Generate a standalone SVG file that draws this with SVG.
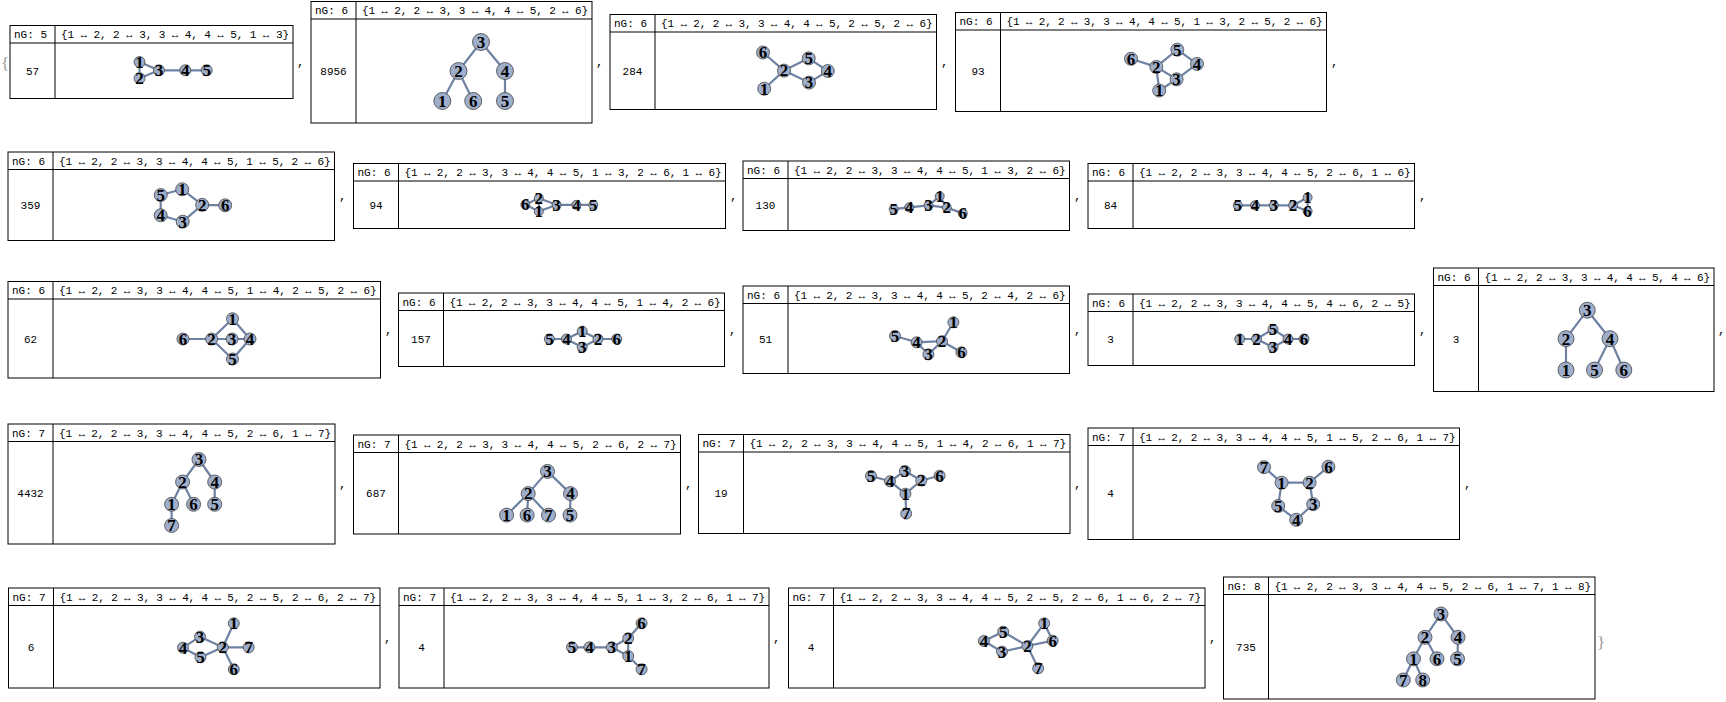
<svg xmlns="http://www.w3.org/2000/svg" width="1726" height="702" viewBox="0 0 1726 702">
<style>
.fr{fill:#fff;stroke:#000;stroke-width:1}
.ln{stroke:#000;stroke-width:1;fill:none}
.hd{font-family:"Liberation Mono","DejaVu Sans Mono",monospace;font-size:11px;fill:#000}
.ct{font-family:"Liberation Mono","DejaVu Sans Mono",monospace;font-size:11px;fill:#000;text-anchor:middle}
.cm{font-family:"Liberation Mono","DejaVu Sans Mono",monospace;font-size:12px;fill:#000}
.br{font-family:"Liberation Serif","DejaVu Serif",serif;font-size:17px;fill:#999}
.e{stroke:#6f82a3;stroke-width:2.2;stroke-linecap:round;fill:none}
.v{fill:#9eaecb;stroke:#454545;stroke-width:0.8}
.lb{font-family:"Liberation Serif","DejaVu Serif",serif;font-weight:bold;font-size:17px;text-anchor:middle;fill:#000}
</style>
<rect width="1726" height="702" fill="#fff"/>
<text class="br" x="1" y="69">{</text>
<text class="br" x="1597" y="648">}</text>
<g id="commas">
<text class="cm" x="297" y="66">,</text><text class="cm" x="596" y="66">,</text><text class="cm" x="941" y="66">,</text><text class="cm" x="1331" y="66">,</text>
<text class="cm" x="339" y="200">,</text><text class="cm" x="730" y="200">,</text><text class="cm" x="1074" y="200">,</text><text class="cm" x="1419" y="200">,</text>
<text class="cm" x="385" y="334">,</text><text class="cm" x="729" y="334">,</text><text class="cm" x="1074" y="334">,</text><text class="cm" x="1419" y="334">,</text><text class="cm" x="1718" y="334">,</text>
<text class="cm" x="339" y="488">,</text><text class="cm" x="685" y="488">,</text><text class="cm" x="1074" y="488">,</text><text class="cm" x="1464" y="488">,</text>
<text class="cm" x="384" y="642">,</text><text class="cm" x="773" y="642">,</text><text class="cm" x="1209" y="642">,</text>
</g>

<!-- Box 1 -->
<g id="box1">
<rect class="fr" x="10" y="25.5" width="283" height="73"/>
<path class="ln" d="M10 43H293M55 25.5V98.5"/>
<text class="hd" x="14" y="38">nG: 5</text>
<text class="hd" x="61" y="38" textLength="228" lengthAdjust="spacing">{1 ↔ 2, 2 ↔ 3, 3 ↔ 4, 4 ↔ 5, 1 ↔ 3}</text>
<text class="ct" x="32.5" y="75">57</text>
</g>
<g id="box1-edges">
<path class="e" d="M139.5 62L139.5 78.3M139.5 78.3L159 70.3M159 70.3L185.3 70.3M185.3 70.3L206.7 70.3M139.5 62L159 70.3"/>
</g>
<g id="box1-v1"><circle class="v" cx="139.5" cy="62" r="5.5"/><text class="lb" x="139.5" y="67.8">1</text></g>
<g id="box1-v2"><circle class="v" cx="139.5" cy="78.3" r="5.5"/><text class="lb" x="139.5" y="84.1">2</text></g>
<g id="box1-v3"><circle class="v" cx="159" cy="70.3" r="5.5"/><text class="lb" x="159" y="76.1">3</text></g>
<g id="box1-v4"><circle class="v" cx="185.3" cy="70.3" r="5.5"/><text class="lb" x="185.3" y="76.1">4</text></g>
<g id="box1-v5"><circle class="v" cx="206.7" cy="70.3" r="5.5"/><text class="lb" x="206.7" y="76.1">5</text></g>

<!-- Box 2 -->
<g id="box2">
<rect class="fr" x="311" y="1.5" width="281" height="121.5"/>
<path class="ln" d="M311 19H592M356 1.5V123"/>
<text class="hd" x="315" y="14">nG: 6</text>
<text class="hd" x="362" y="14" textLength="226" lengthAdjust="spacing">{1 ↔ 2, 2 ↔ 3, 3 ↔ 4, 4 ↔ 5, 2 ↔ 6}</text>
<text class="ct" x="333.5" y="75">8956</text>
</g>
<g id="box2-edges">
<path class="e" d="M442.3 101L458.5 71M458.5 71L481 42M481 42L505 71M505 71L505 101M458.5 71L473.2 101"/>
</g>
<g id="box2-v1"><circle class="v" cx="442.3" cy="101" r="8.5"/><text class="lb" x="442.3" y="106.8">1</text></g>
<g id="box2-v2"><circle class="v" cx="458.5" cy="71" r="8.5"/><text class="lb" x="458.5" y="76.8">2</text></g>
<g id="box2-v3"><circle class="v" cx="481" cy="42" r="8.5"/><text class="lb" x="481" y="47.8">3</text></g>
<g id="box2-v4"><circle class="v" cx="505" cy="71" r="8.5"/><text class="lb" x="505" y="76.8">4</text></g>
<g id="box2-v5"><circle class="v" cx="505" cy="101" r="8.5"/><text class="lb" x="505" y="106.8">5</text></g>
<g id="box2-v6"><circle class="v" cx="473.2" cy="101" r="8.5"/><text class="lb" x="473.2" y="106.8">6</text></g>

<!-- Box 3 -->
<g id="box3">
<rect class="fr" x="610" y="14.5" width="326.5" height="95"/>
<path class="ln" d="M610 32H936.5M655 14.5V109.5"/>
<text class="hd" x="614" y="27">nG: 6</text>
<text class="hd" x="661" y="27" textLength="271.5" lengthAdjust="spacing">{1 ↔ 2, 2 ↔ 3, 3 ↔ 4, 4 ↔ 5, 2 ↔ 5, 2 ↔ 6}</text>
<text class="ct" x="632.5" y="75">284</text>
</g>
<g id="box3-edges">
<path class="e" d="M764.2 88.7L784 70.6M784 70.6L809 82.6M809 82.6L827.8 71M827.8 71L808.7 58.3M784 70.6L808.7 58.3M784 70.6L763 52.5"/>
</g>
<g id="box3-v1"><circle class="v" cx="764.2" cy="88.7" r="6.5"/><text class="lb" x="764.2" y="94.5">1</text></g>
<g id="box3-v2"><circle class="v" cx="784" cy="70.6" r="6.5"/><text class="lb" x="784" y="76.4">2</text></g>
<g id="box3-v3"><circle class="v" cx="809" cy="82.6" r="6.5"/><text class="lb" x="809" y="88.4">3</text></g>
<g id="box3-v4"><circle class="v" cx="827.8" cy="71" r="6.5"/><text class="lb" x="827.8" y="76.8">4</text></g>
<g id="box3-v5"><circle class="v" cx="808.7" cy="58.3" r="6.5"/><text class="lb" x="808.7" y="64.1">5</text></g>
<g id="box3-v6"><circle class="v" cx="763" cy="52.5" r="6.5"/><text class="lb" x="763" y="58.3">6</text></g>

<!-- Box 4 -->
<g id="box4">
<rect class="fr" x="955.5" y="12.5" width="371" height="99"/>
<path class="ln" d="M955.5 30H1326.5M1000.5 12.5V111.5"/>
<text class="hd" x="959.5" y="25">nG: 6</text>
<text class="hd" x="1006.5" y="25" textLength="316" lengthAdjust="spacing">{1 ↔ 2, 2 ↔ 3, 3 ↔ 4, 4 ↔ 5, 1 ↔ 3, 2 ↔ 5, 2 ↔ 6}</text>
<text class="ct" x="978" y="75">93</text>
</g>
<g id="box4-edges">
<path class="e" d="M1159.2 90.5L1156.3 66.9M1156.3 66.9L1176.6 79.3M1176.6 79.3L1197 63.9M1197 63.9L1177.3 49.7M1159.2 90.5L1176.6 79.3M1156.3 66.9L1177.3 49.7M1156.3 66.9L1131 58.8"/>
</g>
<g id="box4-v1"><circle class="v" cx="1159.2" cy="90.5" r="6.5"/><text class="lb" x="1159.2" y="96.3">1</text></g>
<g id="box4-v2"><circle class="v" cx="1156.3" cy="66.9" r="6.5"/><text class="lb" x="1156.3" y="72.7">2</text></g>
<g id="box4-v3"><circle class="v" cx="1176.6" cy="79.3" r="6.5"/><text class="lb" x="1176.6" y="85.1">3</text></g>
<g id="box4-v4"><circle class="v" cx="1197" cy="63.9" r="6.5"/><text class="lb" x="1197" y="69.7">4</text></g>
<g id="box4-v5"><circle class="v" cx="1177.3" cy="49.7" r="6.5"/><text class="lb" x="1177.3" y="55.5">5</text></g>
<g id="box4-v6"><circle class="v" cx="1131" cy="58.8" r="6.5"/><text class="lb" x="1131" y="64.6">6</text></g>

<!-- Box 5 -->
<g id="box5">
<rect class="fr" x="8" y="152" width="326.5" height="88.5"/>
<path class="ln" d="M8 169.5H334.5M53 152V240.5"/>
<text class="hd" x="12" y="164.5">nG: 6</text>
<text class="hd" x="59" y="164.5" textLength="271.5" lengthAdjust="spacing">{1 ↔ 2, 2 ↔ 3, 3 ↔ 4, 4 ↔ 5, 1 ↔ 5, 2 ↔ 6}</text>
<text class="ct" x="30.5" y="209">359</text>
</g>
<g id="box5-edges">
<path class="e" d="M182.2 189.3L202.2 204.8M202.2 204.8L182.7 221.7M182.7 221.7L160.7 215.3M160.7 215.3L160.7 195M182.2 189.3L160.7 195M202.2 204.8L225.2 205.3"/>
</g>
<g id="box5-v1"><circle class="v" cx="182.2" cy="189.3" r="6.5"/><text class="lb" x="182.2" y="195.1">1</text></g>
<g id="box5-v2"><circle class="v" cx="202.2" cy="204.8" r="6.5"/><text class="lb" x="202.2" y="210.6">2</text></g>
<g id="box5-v3"><circle class="v" cx="182.7" cy="221.7" r="6.5"/><text class="lb" x="182.7" y="227.5">3</text></g>
<g id="box5-v4"><circle class="v" cx="160.7" cy="215.3" r="6.5"/><text class="lb" x="160.7" y="221.1">4</text></g>
<g id="box5-v5"><circle class="v" cx="160.7" cy="195" r="6.5"/><text class="lb" x="160.7" y="200.8">5</text></g>
<g id="box5-v6"><circle class="v" cx="225.2" cy="205.3" r="6.5"/><text class="lb" x="225.2" y="211.1">6</text></g>

<!-- Box 6 -->
<g id="box6">
<rect class="fr" x="353.5" y="163.5" width="372" height="65"/>
<path class="ln" d="M353.5 181H725.5M398.5 163.5V228.5"/>
<text class="hd" x="357.5" y="176">nG: 6</text>
<text class="hd" x="404.5" y="176" textLength="317" lengthAdjust="spacing">{1 ↔ 2, 2 ↔ 3, 3 ↔ 4, 4 ↔ 5, 1 ↔ 3, 2 ↔ 6, 1 ↔ 6}</text>
<text class="ct" x="376" y="209">94</text>
</g>
<g id="box6-edges">
<path class="e" d="M538.8 211.5L538.8 198.2M538.8 198.2L556.6 204.8M556.6 204.8L576.4 204.8M576.4 204.8L593.3 204.8M538.8 211.5L556.6 204.8M538.8 198.2L525.3 204.6M538.8 211.5L525.3 204.6"/>
</g>
<g id="box6-v1"><circle class="v" cx="538.8" cy="211.5" r="4.5"/><text class="lb" x="538.8" y="217.3">1</text></g>
<g id="box6-v2"><circle class="v" cx="538.8" cy="198.2" r="4.5"/><text class="lb" x="538.8" y="204">2</text></g>
<g id="box6-v3"><circle class="v" cx="556.6" cy="204.8" r="4.5"/><text class="lb" x="556.6" y="210.6">3</text></g>
<g id="box6-v4"><circle class="v" cx="576.4" cy="204.8" r="4.5"/><text class="lb" x="576.4" y="210.6">4</text></g>
<g id="box6-v5"><circle class="v" cx="593.3" cy="204.8" r="4.5"/><text class="lb" x="593.3" y="210.6">5</text></g>
<g id="box6-v6"><circle class="v" cx="525.3" cy="204.6" r="4.5"/><text class="lb" x="525.3" y="210.4">6</text></g>

<!-- Box 7 -->
<g id="box7">
<rect class="fr" x="743" y="161" width="326.5" height="69.5"/>
<path class="ln" d="M743 178.5H1069.5M788 161V230.5"/>
<text class="hd" x="747" y="173.5">nG: 6</text>
<text class="hd" x="794" y="173.5" textLength="271.5" lengthAdjust="spacing">{1 ↔ 2, 2 ↔ 3, 3 ↔ 4, 4 ↔ 5, 1 ↔ 3, 2 ↔ 6}</text>
<text class="ct" x="765.5" y="209">130</text>
</g>
<g id="box7-edges">
<path class="e" d="M939.7 196.3L946.8 207.6M946.8 207.6L928.5 205.3M928.5 205.3L909.2 207.3M909.2 207.3L893.7 209.1M939.7 196.3L928.5 205.3M946.8 207.6L962.8 213.4"/>
</g>
<g id="box7-v1"><circle class="v" cx="939.7" cy="196.3" r="4.5"/><text class="lb" x="939.7" y="202.1">1</text></g>
<g id="box7-v2"><circle class="v" cx="946.8" cy="207.6" r="4.5"/><text class="lb" x="946.8" y="213.4">2</text></g>
<g id="box7-v3"><circle class="v" cx="928.5" cy="205.3" r="4.5"/><text class="lb" x="928.5" y="211.1">3</text></g>
<g id="box7-v4"><circle class="v" cx="909.2" cy="207.3" r="4.5"/><text class="lb" x="909.2" y="213.1">4</text></g>
<g id="box7-v5"><circle class="v" cx="893.7" cy="209.1" r="4.5"/><text class="lb" x="893.7" y="214.9">5</text></g>
<g id="box7-v6"><circle class="v" cx="962.8" cy="213.4" r="4.5"/><text class="lb" x="962.8" y="219.2">6</text></g>

<!-- Box 8 -->
<g id="box8">
<rect class="fr" x="1088" y="163.5" width="326.5" height="65"/>
<path class="ln" d="M1088 181H1414.5M1133 163.5V228.5"/>
<text class="hd" x="1092" y="176">nG: 6</text>
<text class="hd" x="1139" y="176" textLength="271.5" lengthAdjust="spacing">{1 ↔ 2, 2 ↔ 3, 3 ↔ 4, 4 ↔ 5, 2 ↔ 6, 1 ↔ 6}</text>
<text class="ct" x="1110.5" y="209">84</text>
</g>
<g id="box8-edges">
<path class="e" d="M1307.6 197.5L1293.1 205.3M1293.1 205.3L1273.8 205.3M1273.8 205.3L1255 205.3M1255 205.3L1237.8 205.3M1293.1 205.3L1307.6 211.2M1307.6 197.5L1307.6 211.2"/>
</g>
<g id="box8-v1"><circle class="v" cx="1307.6" cy="197.5" r="4.5"/><text class="lb" x="1307.6" y="203.3">1</text></g>
<g id="box8-v2"><circle class="v" cx="1293.1" cy="205.3" r="4.5"/><text class="lb" x="1293.1" y="211.1">2</text></g>
<g id="box8-v3"><circle class="v" cx="1273.8" cy="205.3" r="4.5"/><text class="lb" x="1273.8" y="211.1">3</text></g>
<g id="box8-v4"><circle class="v" cx="1255" cy="205.3" r="4.5"/><text class="lb" x="1255" y="211.1">4</text></g>
<g id="box8-v5"><circle class="v" cx="1237.8" cy="205.3" r="4.5"/><text class="lb" x="1237.8" y="211.1">5</text></g>
<g id="box8-v6"><circle class="v" cx="1307.6" cy="211.2" r="4.5"/><text class="lb" x="1307.6" y="217">6</text></g>

<!-- Box 9 -->
<g id="box9">
<rect class="fr" x="8" y="281.5" width="372.5" height="96.5"/>
<path class="ln" d="M8 299H380.5M53 281.5V378"/>
<text class="hd" x="12" y="294">nG: 6</text>
<text class="hd" x="59" y="294" textLength="317.5" lengthAdjust="spacing">{1 ↔ 2, 2 ↔ 3, 3 ↔ 4, 4 ↔ 5, 1 ↔ 4, 2 ↔ 5, 2 ↔ 6}</text>
<text class="ct" x="30.5" y="342.5">62</text>
</g>
<g id="box9-edges">
<path class="e" d="M232.5 318.7L211.6 339M211.6 339L232.1 339M232.1 339L250 339M250 339L232.5 359M232.5 318.7L250 339M211.6 339L232.5 359M211.6 339L183 339"/>
</g>
<g id="box9-v1"><circle class="v" cx="232.5" cy="318.7" r="6"/><text class="lb" x="232.5" y="324.5">1</text></g>
<g id="box9-v2"><circle class="v" cx="211.6" cy="339" r="6"/><text class="lb" x="211.6" y="344.8">2</text></g>
<g id="box9-v3"><circle class="v" cx="232.1" cy="339" r="6"/><text class="lb" x="232.1" y="344.8">3</text></g>
<g id="box9-v4"><circle class="v" cx="250" cy="339" r="6"/><text class="lb" x="250" y="344.8">4</text></g>
<g id="box9-v5"><circle class="v" cx="232.5" cy="359" r="6"/><text class="lb" x="232.5" y="364.8">5</text></g>
<g id="box9-v6"><circle class="v" cx="183" cy="339" r="6"/><text class="lb" x="183" y="344.8">6</text></g>

<!-- Box 10 -->
<g id="box10">
<rect class="fr" x="398.5" y="293" width="326" height="73.5"/>
<path class="ln" d="M398.5 310.5H724.5M443.5 293V366.5"/>
<text class="hd" x="402.5" y="305.5">nG: 6</text>
<text class="hd" x="449.5" y="305.5" textLength="271" lengthAdjust="spacing">{1 ↔ 2, 2 ↔ 3, 3 ↔ 4, 4 ↔ 5, 1 ↔ 4, 2 ↔ 6}</text>
<text class="ct" x="421" y="342.5">157</text>
</g>
<g id="box10-edges">
<path class="e" d="M582.2 331.2L598 339M598 339L582.2 347.2M582.2 347.2L566.4 339M566.4 339L549.4 339M582.2 331.2L566.4 339M598 339L616.7 339"/>
</g>
<g id="box10-v1"><circle class="v" cx="582.2" cy="331.2" r="5"/><text class="lb" x="582.2" y="337">1</text></g>
<g id="box10-v2"><circle class="v" cx="598" cy="339" r="5"/><text class="lb" x="598" y="344.8">2</text></g>
<g id="box10-v3"><circle class="v" cx="582.2" cy="347.2" r="5"/><text class="lb" x="582.2" y="353">3</text></g>
<g id="box10-v4"><circle class="v" cx="566.4" cy="339" r="5"/><text class="lb" x="566.4" y="344.8">4</text></g>
<g id="box10-v5"><circle class="v" cx="549.4" cy="339" r="5"/><text class="lb" x="549.4" y="344.8">5</text></g>
<g id="box10-v6"><circle class="v" cx="616.7" cy="339" r="5"/><text class="lb" x="616.7" y="344.8">6</text></g>

<!-- Box 11 -->
<g id="box11">
<rect class="fr" x="743" y="286" width="326.5" height="87.5"/>
<path class="ln" d="M743 303.5H1069.5M788 286V373.5"/>
<text class="hd" x="747" y="298.5">nG: 6</text>
<text class="hd" x="794" y="298.5" textLength="271.5" lengthAdjust="spacing">{1 ↔ 2, 2 ↔ 3, 3 ↔ 4, 4 ↔ 5, 2 ↔ 4, 2 ↔ 6}</text>
<text class="ct" x="765.5" y="342.5">51</text>
</g>
<g id="box11-edges">
<path class="e" d="M953.4 322.3L942 341.2M942 341.2L928.4 354.4M928.4 354.4L916.6 342.3M916.6 342.3L895 336M942 341.2L916.6 342.3M942 341.2L961.4 352.3"/>
</g>
<g id="box11-v1"><circle class="v" cx="953.4" cy="322.3" r="5.5"/><text class="lb" x="953.4" y="328.1">1</text></g>
<g id="box11-v2"><circle class="v" cx="942" cy="341.2" r="5.5"/><text class="lb" x="942" y="347">2</text></g>
<g id="box11-v3"><circle class="v" cx="928.4" cy="354.4" r="5.5"/><text class="lb" x="928.4" y="360.2">3</text></g>
<g id="box11-v4"><circle class="v" cx="916.6" cy="342.3" r="5.5"/><text class="lb" x="916.6" y="348.1">4</text></g>
<g id="box11-v5"><circle class="v" cx="895" cy="336" r="5.5"/><text class="lb" x="895" y="341.8">5</text></g>
<g id="box11-v6"><circle class="v" cx="961.4" cy="352.3" r="5.5"/><text class="lb" x="961.4" y="358.1">6</text></g>

<!-- Box 12 -->
<g id="box12">
<rect class="fr" x="1088" y="294" width="326.5" height="71.5"/>
<path class="ln" d="M1088 311.5H1414.5M1133 294V365.5"/>
<text class="hd" x="1092" y="306.5">nG: 6</text>
<text class="hd" x="1139" y="306.5" textLength="271.5" lengthAdjust="spacing">{1 ↔ 2, 2 ↔ 3, 3 ↔ 4, 4 ↔ 5, 4 ↔ 6, 2 ↔ 5}</text>
<text class="ct" x="1110.5" y="342.5">3</text>
</g>
<g id="box12-edges">
<path class="e" d="M1239.7 339L1256.5 339M1256.5 339L1273 347.3M1273 347.3L1288 339M1288 339L1273 329.2M1288 339L1304 339M1256.5 339L1273 329.2"/>
</g>
<g id="box12-v1"><circle class="v" cx="1239.7" cy="339" r="5"/><text class="lb" x="1239.7" y="344.8">1</text></g>
<g id="box12-v2"><circle class="v" cx="1256.5" cy="339" r="5"/><text class="lb" x="1256.5" y="344.8">2</text></g>
<g id="box12-v3"><circle class="v" cx="1273" cy="347.3" r="5"/><text class="lb" x="1273" y="353.1">3</text></g>
<g id="box12-v4"><circle class="v" cx="1288" cy="339" r="5"/><text class="lb" x="1288" y="344.8">4</text></g>
<g id="box12-v5"><circle class="v" cx="1273" cy="329.2" r="5"/><text class="lb" x="1273" y="335">5</text></g>
<g id="box12-v6"><circle class="v" cx="1304" cy="339" r="5"/><text class="lb" x="1304" y="344.8">6</text></g>

<!-- Box 13 -->
<g id="box13">
<rect class="fr" x="1433.5" y="268" width="280.5" height="123.5"/>
<path class="ln" d="M1433.5 285.5H1714M1478.5 268V391.5"/>
<text class="hd" x="1437.5" y="280.5">nG: 6</text>
<text class="hd" x="1484.5" y="280.5" textLength="225.5" lengthAdjust="spacing">{1 ↔ 2, 2 ↔ 3, 3 ↔ 4, 4 ↔ 5, 4 ↔ 6}</text>
<text class="ct" x="1456" y="342.5">3</text>
</g>
<g id="box13-edges">
<path class="e" d="M1566 370L1566 338.7M1566 338.7L1587.3 310.2M1587.3 310.2L1610 338.7M1610 338.7L1594.5 370M1610 338.7L1623.8 370"/>
</g>
<g id="box13-v1"><circle class="v" cx="1566" cy="370" r="8"/><text class="lb" x="1566" y="375.8">1</text></g>
<g id="box13-v2"><circle class="v" cx="1566" cy="338.7" r="8"/><text class="lb" x="1566" y="344.5">2</text></g>
<g id="box13-v3"><circle class="v" cx="1587.3" cy="310.2" r="8"/><text class="lb" x="1587.3" y="316">3</text></g>
<g id="box13-v4"><circle class="v" cx="1610" cy="338.7" r="8"/><text class="lb" x="1610" y="344.5">4</text></g>
<g id="box13-v5"><circle class="v" cx="1594.5" cy="370" r="8"/><text class="lb" x="1594.5" y="375.8">5</text></g>
<g id="box13-v6"><circle class="v" cx="1623.8" cy="370" r="8"/><text class="lb" x="1623.8" y="375.8">6</text></g>

<!-- Box 14 -->
<g id="box14">
<rect class="fr" x="8" y="424" width="327" height="120"/>
<path class="ln" d="M8 441.5H335M53 424V544"/>
<text class="hd" x="12" y="436.5">nG: 7</text>
<text class="hd" x="59" y="436.5" textLength="272" lengthAdjust="spacing">{1 ↔ 2, 2 ↔ 3, 3 ↔ 4, 4 ↔ 5, 2 ↔ 6, 1 ↔ 7}</text>
<text class="ct" x="30.5" y="496.5">4432</text>
</g>
<g id="box14-edges">
<path class="e" d="M171.6 504.3L182.6 482M182.6 482L199 459.5M199 459.5L214.7 482M214.7 482L214.7 504.3M182.6 482L193.6 504.3M171.6 504.3L171.6 525.5"/>
</g>
<g id="box14-v1"><circle class="v" cx="171.6" cy="504.3" r="7"/><text class="lb" x="171.6" y="510.1">1</text></g>
<g id="box14-v2"><circle class="v" cx="182.6" cy="482" r="7"/><text class="lb" x="182.6" y="487.8">2</text></g>
<g id="box14-v3"><circle class="v" cx="199" cy="459.5" r="7"/><text class="lb" x="199" y="465.3">3</text></g>
<g id="box14-v4"><circle class="v" cx="214.7" cy="482" r="7"/><text class="lb" x="214.7" y="487.8">4</text></g>
<g id="box14-v5"><circle class="v" cx="214.7" cy="504.3" r="7"/><text class="lb" x="214.7" y="510.1">5</text></g>
<g id="box14-v6"><circle class="v" cx="193.6" cy="504.3" r="7"/><text class="lb" x="193.6" y="510.1">6</text></g>
<g id="box14-v7"><circle class="v" cx="171.6" cy="525.5" r="7"/><text class="lb" x="171.6" y="531.3">7</text></g>

<!-- Box 15 -->
<g id="box15">
<rect class="fr" x="353.5" y="435" width="327" height="99"/>
<path class="ln" d="M353.5 452.5H680.5M398.5 435V534"/>
<text class="hd" x="357.5" y="447.5">nG: 7</text>
<text class="hd" x="404.5" y="447.5" textLength="272" lengthAdjust="spacing">{1 ↔ 2, 2 ↔ 3, 3 ↔ 4, 4 ↔ 5, 2 ↔ 6, 2 ↔ 7}</text>
<text class="ct" x="376" y="496.5">687</text>
</g>
<g id="box15-edges">
<path class="e" d="M506.6 515.1L528.2 493.6M528.2 493.6L547.5 471.4M547.5 471.4L570.5 493.6M570.5 493.6L570 515.1M528.2 493.6L527.1 515.1M528.2 493.6L548.5 515.1"/>
</g>
<g id="box15-v1"><circle class="v" cx="506.6" cy="515.1" r="7"/><text class="lb" x="506.6" y="520.9">1</text></g>
<g id="box15-v2"><circle class="v" cx="528.2" cy="493.6" r="7"/><text class="lb" x="528.2" y="499.4">2</text></g>
<g id="box15-v3"><circle class="v" cx="547.5" cy="471.4" r="7"/><text class="lb" x="547.5" y="477.2">3</text></g>
<g id="box15-v4"><circle class="v" cx="570.5" cy="493.6" r="7"/><text class="lb" x="570.5" y="499.4">4</text></g>
<g id="box15-v5"><circle class="v" cx="570" cy="515.1" r="7"/><text class="lb" x="570" y="520.9">5</text></g>
<g id="box15-v6"><circle class="v" cx="527.1" cy="515.1" r="7"/><text class="lb" x="527.1" y="520.9">6</text></g>
<g id="box15-v7"><circle class="v" cx="548.5" cy="515.1" r="7"/><text class="lb" x="548.5" y="520.9">7</text></g>

<!-- Box 16 -->
<g id="box16">
<rect class="fr" x="698.5" y="434.5" width="371.5" height="99"/>
<path class="ln" d="M698.5 452H1070M743.5 434.5V533.5"/>
<text class="hd" x="702.5" y="447">nG: 7</text>
<text class="hd" x="749.5" y="447" textLength="316.5" lengthAdjust="spacing">{1 ↔ 2, 2 ↔ 3, 3 ↔ 4, 4 ↔ 5, 1 ↔ 4, 2 ↔ 6, 1 ↔ 7}</text>
<text class="ct" x="721" y="496.5">19</text>
</g>
<g id="box16-edges">
<path class="e" d="M905.4 493.7L921.3 480.5M921.3 480.5L904.9 471M904.9 471L890 481.3M890 481.3L871 476M905.4 493.7L890 481.3M921.3 480.5L939.6 475.7M905.4 493.7L906.2 513.6"/>
</g>
<g id="box16-v1"><circle class="v" cx="905.4" cy="493.7" r="5.5"/><text class="lb" x="905.4" y="499.5">1</text></g>
<g id="box16-v2"><circle class="v" cx="921.3" cy="480.5" r="5.5"/><text class="lb" x="921.3" y="486.3">2</text></g>
<g id="box16-v3"><circle class="v" cx="904.9" cy="471" r="5.5"/><text class="lb" x="904.9" y="476.8">3</text></g>
<g id="box16-v4"><circle class="v" cx="890" cy="481.3" r="5.5"/><text class="lb" x="890" y="487.1">4</text></g>
<g id="box16-v5"><circle class="v" cx="871" cy="476" r="5.5"/><text class="lb" x="871" y="481.8">5</text></g>
<g id="box16-v6"><circle class="v" cx="939.6" cy="475.7" r="5.5"/><text class="lb" x="939.6" y="481.5">6</text></g>
<g id="box16-v7"><circle class="v" cx="906.2" cy="513.6" r="5.5"/><text class="lb" x="906.2" y="519.4">7</text></g>

<!-- Box 17 -->
<g id="box17">
<rect class="fr" x="1088" y="428" width="371.5" height="111.5"/>
<path class="ln" d="M1088 445.5H1459.5M1133 428V539.5"/>
<text class="hd" x="1092" y="440.5">nG: 7</text>
<text class="hd" x="1139" y="440.5" textLength="316.5" lengthAdjust="spacing">{1 ↔ 2, 2 ↔ 3, 3 ↔ 4, 4 ↔ 5, 1 ↔ 5, 2 ↔ 6, 1 ↔ 7}</text>
<text class="ct" x="1110.5" y="496.5">4</text>
</g>
<g id="box17-edges">
<path class="e" d="M1281.6 482.7L1309.6 482.7M1309.6 482.7L1313.2 504.2M1313.2 504.2L1296.2 519.8M1296.2 519.8L1278.2 506M1281.6 482.7L1278.2 506M1309.6 482.7L1328.4 466.7M1281.6 482.7L1264 467.2"/>
</g>
<g id="box17-v1"><circle class="v" cx="1281.6" cy="482.7" r="6.5"/><text class="lb" x="1281.6" y="488.5">1</text></g>
<g id="box17-v2"><circle class="v" cx="1309.6" cy="482.7" r="6.5"/><text class="lb" x="1309.6" y="488.5">2</text></g>
<g id="box17-v3"><circle class="v" cx="1313.2" cy="504.2" r="6.5"/><text class="lb" x="1313.2" y="510">3</text></g>
<g id="box17-v4"><circle class="v" cx="1296.2" cy="519.8" r="6.5"/><text class="lb" x="1296.2" y="525.6">4</text></g>
<g id="box17-v5"><circle class="v" cx="1278.2" cy="506" r="6.5"/><text class="lb" x="1278.2" y="511.8">5</text></g>
<g id="box17-v6"><circle class="v" cx="1328.4" cy="466.7" r="6.5"/><text class="lb" x="1328.4" y="472.5">6</text></g>
<g id="box17-v7"><circle class="v" cx="1264" cy="467.2" r="6.5"/><text class="lb" x="1264" y="473">7</text></g>

<!-- Box 18 -->
<g id="box18">
<rect class="fr" x="8.5" y="588" width="371.5" height="100"/>
<path class="ln" d="M8.5 605.5H380M53.5 588V688"/>
<text class="hd" x="12.5" y="600.5">nG: 7</text>
<text class="hd" x="59.5" y="600.5" textLength="316.5" lengthAdjust="spacing">{1 ↔ 2, 2 ↔ 3, 3 ↔ 4, 4 ↔ 5, 2 ↔ 5, 2 ↔ 6, 2 ↔ 7}</text>
<text class="ct" x="31" y="650.5">6</text>
</g>
<g id="box18-edges">
<path class="e" d="M233.8 623.3L222.8 647.3M222.8 647.3L200 636.7M200 636.7L183 647.7M183 647.7L200.5 657.3M222.8 647.3L200.5 657.3M222.8 647.3L233.8 669.3M222.8 647.3L248.7 647.3"/>
</g>
<g id="box18-v1"><circle class="v" cx="233.8" cy="623.3" r="5.5"/><text class="lb" x="233.8" y="629.1">1</text></g>
<g id="box18-v2"><circle class="v" cx="222.8" cy="647.3" r="5.5"/><text class="lb" x="222.8" y="653.1">2</text></g>
<g id="box18-v3"><circle class="v" cx="200" cy="636.7" r="5.5"/><text class="lb" x="200" y="642.5">3</text></g>
<g id="box18-v4"><circle class="v" cx="183" cy="647.7" r="5.5"/><text class="lb" x="183" y="653.5">4</text></g>
<g id="box18-v5"><circle class="v" cx="200.5" cy="657.3" r="5.5"/><text class="lb" x="200.5" y="663.1">5</text></g>
<g id="box18-v6"><circle class="v" cx="233.8" cy="669.3" r="5.5"/><text class="lb" x="233.8" y="675.1">6</text></g>
<g id="box18-v7"><circle class="v" cx="248.7" cy="647.3" r="5.5"/><text class="lb" x="248.7" y="653.1">7</text></g>

<!-- Box 19 -->
<g id="box19">
<rect class="fr" x="399" y="588" width="370" height="100"/>
<path class="ln" d="M399 605.5H769M444 588V688"/>
<text class="hd" x="403" y="600.5">nG: 7</text>
<text class="hd" x="450" y="600.5" textLength="315" lengthAdjust="spacing">{1 ↔ 2, 2 ↔ 3, 3 ↔ 4, 4 ↔ 5, 1 ↔ 3, 2 ↔ 6, 1 ↔ 7}</text>
<text class="ct" x="421.5" y="650.5">4</text>
</g>
<g id="box19-edges">
<path class="e" d="M628.2 656L628.2 638.3M628.2 638.3L611.8 647.3M611.8 647.3L589.4 647.3M589.4 647.3L572 647.3M628.2 656L611.8 647.3M628.2 638.3L641.6 623.3M628.2 656L641.6 669.3"/>
</g>
<g id="box19-v1"><circle class="v" cx="628.2" cy="656" r="5.5"/><text class="lb" x="628.2" y="661.8">1</text></g>
<g id="box19-v2"><circle class="v" cx="628.2" cy="638.3" r="5.5"/><text class="lb" x="628.2" y="644.1">2</text></g>
<g id="box19-v3"><circle class="v" cx="611.8" cy="647.3" r="5.5"/><text class="lb" x="611.8" y="653.1">3</text></g>
<g id="box19-v4"><circle class="v" cx="589.4" cy="647.3" r="5.5"/><text class="lb" x="589.4" y="653.1">4</text></g>
<g id="box19-v5"><circle class="v" cx="572" cy="647.3" r="5.5"/><text class="lb" x="572" y="653.1">5</text></g>
<g id="box19-v6"><circle class="v" cx="641.6" cy="623.3" r="5.5"/><text class="lb" x="641.6" y="629.1">6</text></g>
<g id="box19-v7"><circle class="v" cx="641.6" cy="669.3" r="5.5"/><text class="lb" x="641.6" y="675.1">7</text></g>

<!-- Box 20 -->
<g id="box20">
<rect class="fr" x="788.5" y="588" width="416.5" height="100"/>
<path class="ln" d="M788.5 605.5H1205M833.5 588V688"/>
<text class="hd" x="792.5" y="600.5">nG: 7</text>
<text class="hd" x="839.5" y="600.5" textLength="361.5" lengthAdjust="spacing">{1 ↔ 2, 2 ↔ 3, 3 ↔ 4, 4 ↔ 5, 2 ↔ 5, 2 ↔ 6, 1 ↔ 6, 2 ↔ 7}</text>
<text class="ct" x="811" y="650.5">4</text>
</g>
<g id="box20-edges">
<path class="e" d="M1044.2 623.3L1027.4 646M1027.4 646L1002 651.7M1002 651.7L983.9 641M983.9 641L1003.2 631.7M1027.4 646L1003.2 631.7M1027.4 646L1052.7 640.7M1044.2 623.3L1052.7 640.7M1027.4 646L1038.2 668.3"/>
</g>
<g id="box20-v1"><circle class="v" cx="1044.2" cy="623.3" r="5.5"/><text class="lb" x="1044.2" y="629.1">1</text></g>
<g id="box20-v2"><circle class="v" cx="1027.4" cy="646" r="5.5"/><text class="lb" x="1027.4" y="651.8">2</text></g>
<g id="box20-v3"><circle class="v" cx="1002" cy="651.7" r="5.5"/><text class="lb" x="1002" y="657.5">3</text></g>
<g id="box20-v4"><circle class="v" cx="983.9" cy="641" r="5.5"/><text class="lb" x="983.9" y="646.8">4</text></g>
<g id="box20-v5"><circle class="v" cx="1003.2" cy="631.7" r="5.5"/><text class="lb" x="1003.2" y="637.5">5</text></g>
<g id="box20-v6"><circle class="v" cx="1052.7" cy="640.7" r="5.5"/><text class="lb" x="1052.7" y="646.5">6</text></g>
<g id="box20-v7"><circle class="v" cx="1038.2" cy="668.3" r="5.5"/><text class="lb" x="1038.2" y="674.1">7</text></g>

<!-- Box 21 -->
<g id="box21">
<rect class="fr" x="1223.5" y="577" width="371.5" height="122"/>
<path class="ln" d="M1223.5 594.5H1595M1268.5 577V699"/>
<text class="hd" x="1227.5" y="589.5">nG: 8</text>
<text class="hd" x="1274.5" y="589.5" textLength="316.5" lengthAdjust="spacing">{1 ↔ 2, 2 ↔ 3, 3 ↔ 4, 4 ↔ 5, 2 ↔ 6, 1 ↔ 7, 1 ↔ 8}</text>
<text class="ct" x="1246" y="650.5">735</text>
</g>
<g id="box21-edges">
<path class="e" d="M1413.5 658.8L1425 637.3M1425 637.3L1441 614M1441 614L1458 637.3M1458 637.3L1457.5 658.8M1425 637.3L1437 658.8M1413.5 658.8L1403.3 680M1413.5 658.8L1422.7 680"/>
</g>
<g id="box21-v1"><circle class="v" cx="1413.5" cy="658.8" r="7"/><text class="lb" x="1413.5" y="664.6">1</text></g>
<g id="box21-v2"><circle class="v" cx="1425" cy="637.3" r="7"/><text class="lb" x="1425" y="643.1">2</text></g>
<g id="box21-v3"><circle class="v" cx="1441" cy="614" r="7"/><text class="lb" x="1441" y="619.8">3</text></g>
<g id="box21-v4"><circle class="v" cx="1458" cy="637.3" r="7"/><text class="lb" x="1458" y="643.1">4</text></g>
<g id="box21-v5"><circle class="v" cx="1457.5" cy="658.8" r="7"/><text class="lb" x="1457.5" y="664.6">5</text></g>
<g id="box21-v6"><circle class="v" cx="1437" cy="658.8" r="7"/><text class="lb" x="1437" y="664.6">6</text></g>
<g id="box21-v7"><circle class="v" cx="1403.3" cy="680" r="7"/><text class="lb" x="1403.3" y="685.8">7</text></g>
<g id="box21-v8"><circle class="v" cx="1422.7" cy="680" r="7"/><text class="lb" x="1422.7" y="685.8">8</text></g>
</svg>
